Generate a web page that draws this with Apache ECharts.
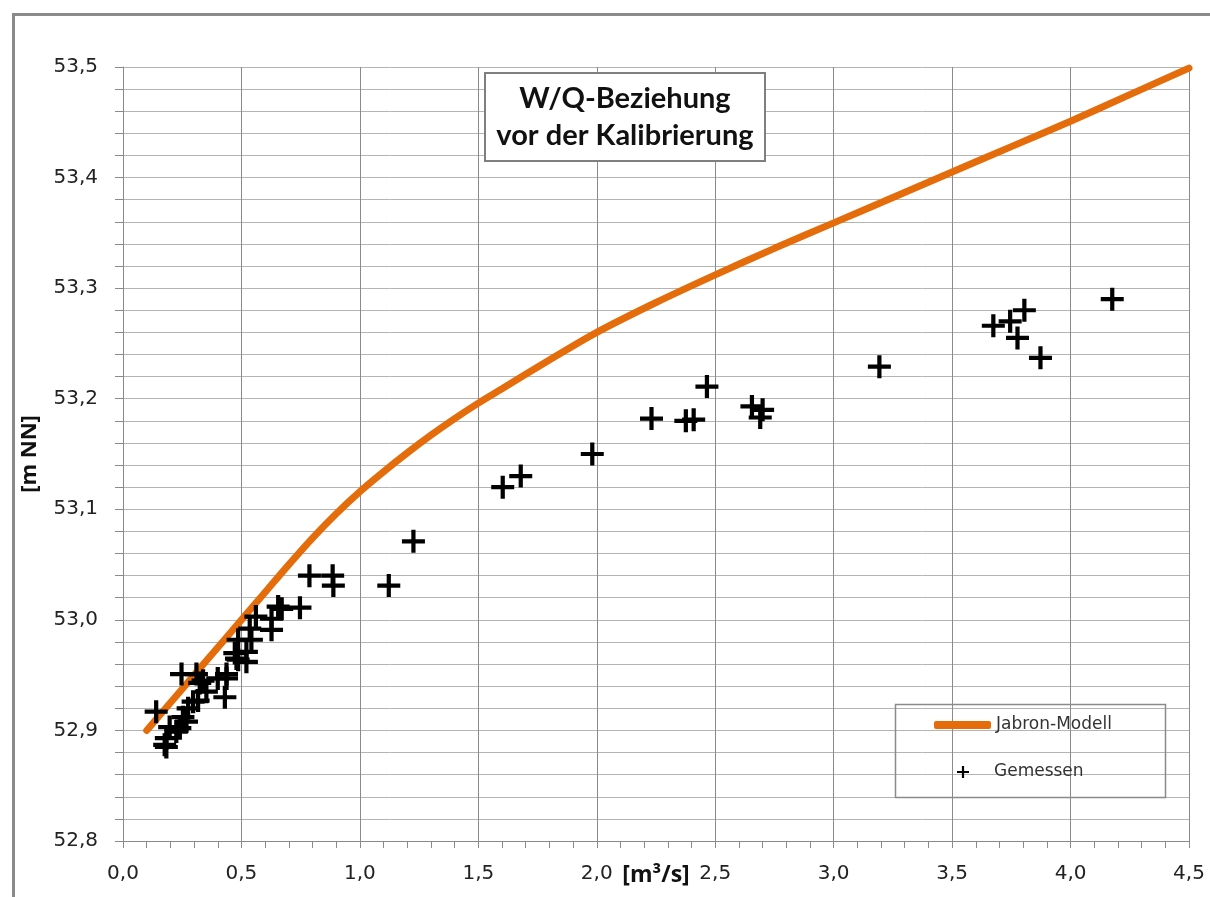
<!DOCTYPE html>
<html>
<head>
<meta charset="utf-8">
<script src="https://cdn.jsdelivr.net/npm/echarts@6/dist/echarts.min.js"></script>
<style>
  html, body { margin: 0; padding: 0; background: #fff; }
  #chart { width: 1210px; height: 897px; }
</style>
</head>
<body>
<div id="chart"></div>
<script>
// Jabron rating curve: discharge [m³/s] -> water level [m NN]
const modelQ = [0.1, 0.2, 0.3, 0.4, 0.5, 0.6, 0.7, 0.8, 0.9, 1.0, 1.1, 1.2, 1.3, 1.4, 1.5, 1.6, 1.8, 2.0, 2.25, 2.5, 2.75, 3.0, 3.25, 3.5, 3.75, 4.0, 4.25, 4.5];
const modelW = [52.900, 52.925, 52.950, 52.975, 53.000, 53.025, 53.050, 53.074, 53.096, 53.116, 53.134, 53.151, 53.167, 53.182, 53.196, 53.209, 53.235, 53.260, 53.287, 53.312, 53.336, 53.359, 53.382, 53.405, 53.428, 53.451, 53.475, 53.499];

// Measured discharge / water level pairs
const measuredQ = [0.14, 0.183, 0.176, 0.183, 0.197, 0.225, 0.24, 0.253, 0.268, 0.275, 0.296, 0.247, 0.31, 0.317, 0.324, 0.338, 0.352, 0.40, 0.43, 0.437, 0.437, 0.472, 0.479, 0.486, 0.486, 0.521, 0.521, 0.535, 0.542, 0.561, 0.627, 0.627, 0.655, 0.67, 0.747, 0.787, 0.885, 0.888, 1.122, 1.226, 1.603, 1.679, 1.981, 2.231, 2.376, 2.409, 2.465, 2.655, 2.70, 2.69, 3.193, 3.674, 3.745, 3.805, 3.776, 3.873, 4.176];
const measuredW = [52.917, 52.893, 52.887, 52.885, 52.903, 52.899, 52.902, 52.912, 52.908, 52.92, 52.926, 52.951, 52.951, 52.927, 52.943, 52.945, 52.935, 52.947, 52.93, 52.951, 52.947, 52.97, 52.965, 52.964, 52.982, 52.971, 52.962, 52.992, 52.982, 53.003, 53.001, 52.991, 53.012, 53.01, 53.011, 53.04, 53.04, 53.031, 53.031, 53.071, 53.12, 53.13, 53.15, 53.182, 53.18, 53.181, 53.211, 53.193, 53.19, 53.183, 53.229, 53.266, 53.27, 53.28, 53.255, 53.237, 53.29];

const titleLines = ['W/Q-Beziehung', 'vor der Kalibrierung'];
const seriesNames = ['Jabron-Modell', 'Gemessen'];
const xAxisName = '[m³/s]';
const yAxisName = '[m NN]';

const crossPath = 'path://M9.8,0H14.2V9.8H24V14.2H14.2V24H9.8V14.2H0V9.8H9.8Z';
const commaFmt = v => v.toFixed(1).replace('.', ',');
const gridGray = '#b4b4b4';
const axisGray = '#8a8a8a';

const chart = echarts.init(document.getElementById('chart'), null, { renderer: 'canvas' });

chart.setOption({
  animation: false,
  backgroundColor: '#ffffff',
  textStyle: { fontFamily: 'DejaVu Sans' },
  grid: { left: 123, width: 1066, top: 67, height: 774, containLabel: false },
  title: {
    text: titleLines.join('\n'),
    left: 613,
    top: 73,
    textAlign: 'center',
    padding: [7, 12, 7, 12],
    borderColor: '#7f7f7f',
    borderWidth: 2,
    backgroundColor: '#ffffff',
    textStyle: {
      fontFamily: 'Lato',
      fontWeight: 'bold',
      fontSize: 29,
      lineHeight: 37,
      color: '#111'
    }
  },
  legend: [
    {
      data: [{ name: seriesNames[0], icon: 'roundRect' }],
      left: 934,
      top: 715,
      padding: 0,
      itemWidth: 57,
      itemHeight: 8,
      textStyle: { fontFamily: 'DejaVu Sans', fontSize: 17, lineHeight: 20, color: '#333' }
    },
    {
      data: [{ name: seriesNames[1], icon: crossPath }],
      left: 957,
      top: 762,
      padding: 0,
      itemWidth: 12,
      itemHeight: 12,
      textStyle: { fontFamily: 'DejaVu Sans', fontSize: 17, lineHeight: 20, color: '#333', padding: [0, 0, 0, 20] }
    }
  ],
  xAxis: {
    type: 'value',
    min: 0,
    max: 4.5,
    interval: 0.5,
    name: xAxisName,
    nameLocation: 'middle',
    nameGap: 23,
    nameMoveOverlap: false,
    nameTextStyle: { fontFamily: 'Open Sans', fontWeight: 'bold', fontSize: 23, color: '#111' },
    axisLine: { show: true, onZero: false, lineStyle: { color: axisGray, width: 1 } },
    axisTick: { show: true, length: 7, lineStyle: { color: axisGray } },
    minorTick: { show: true, splitNumber: 5, length: 7, lineStyle: { color: axisGray } },
    axisLabel: { formatter: commaFmt, fontSize: 20, color: '#222', margin: 23 },
    splitLine: { show: true, lineStyle: { color: axisGray, width: 1 } },
    minorSplitLine: { show: false }
  },
  yAxis: {
    type: 'value',
    min: 52.8,
    max: 53.5,
    interval: 0.1,
    name: yAxisName,
    nameLocation: 'middle',
    nameGap: 82,
    nameRotate: 90,
    nameMoveOverlap: false,
    nameTextStyle: { fontFamily: 'Open Sans', fontWeight: 'bold', fontSize: 22, color: '#111' },
    axisLine: { show: true, onZero: false, lineStyle: { color: axisGray, width: 1 } },
    axisTick: { show: true, length: 8, lineStyle: { color: axisGray } },
    minorTick: { show: true, splitNumber: 5, length: 8, lineStyle: { color: axisGray } },
    axisLabel: { formatter: commaFmt, fontSize: 20, color: '#222', margin: 25 },
    splitLine: { show: true, lineStyle: { color: gridGray, width: 1 } },
    minorSplitLine: { show: true, lineStyle: { color: gridGray, width: 1 } }
  },
  series: [
    {
      name: seriesNames[0],
      type: 'line',
      smooth: 0.3,
      showSymbol: false,
      data: modelQ.map((q, i) => [q, modelW[i]]),
      lineStyle: { color: '#E46C0A', width: 7, cap: 'round' },
      itemStyle: { color: '#E46C0A' },
      z: 2
    },
    {
      name: seriesNames[1],
      type: 'scatter',
      symbol: crossPath,
      symbolSize: 23,
      data: measuredQ.map((q, i) => [q, measuredW[i]]),
      itemStyle: { color: '#000000', opacity: 1 },
      z: 3
    }
  ],
  graphic: [
    {
      type: 'rect',
      left: 893, top: 702,
      shape: { width: 270, height: 93 },
      style: { fill: null, stroke: '#8a8a8a', lineWidth: 1.5 },
      z: 1
    },
    {
      type: 'rect',
      left: 11, top: 12,
      shape: { width: 1400, height: 1100 },
      style: { fill: null, stroke: '#8a8a8a', lineWidth: 3 },
      silent: true
    }
  ]
});
</script>
</body>
</html>
